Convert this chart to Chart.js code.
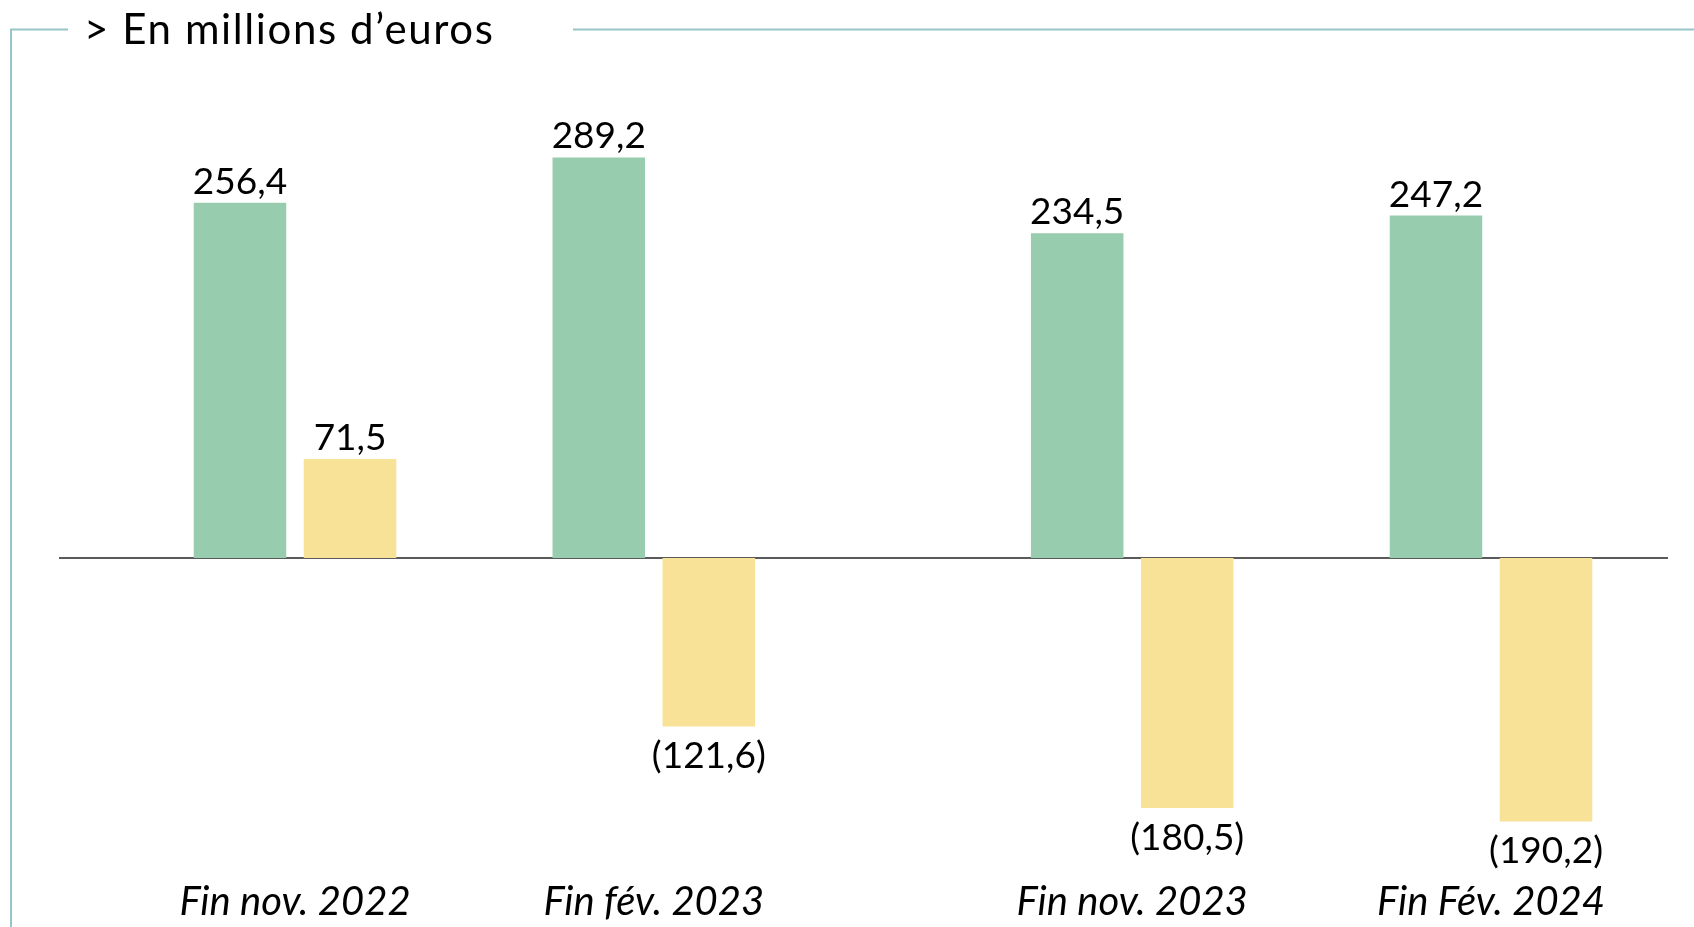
<!DOCTYPE html>
<html lang="fr">
<head>
<meta charset="utf-8">
<title>En millions d’euros</title>
<script src="https://cdn.jsdelivr.net/npm/chart.js@4/dist/chart.umd.min.js"></script>
<style>
  html, body { margin: 0; padding: 0; background: #ffffff; }
  #wrap { width: 1694px; height: 927px; position: relative; }
</style>
</head>
<body>
<div id="wrap"><canvas id="c"></canvas></div>
<script>
// ---- Data ----
const categories = ['Fin nov. 2022', 'Fin fév. 2023', 'Fin nov. 2023', 'Fin Fév. 2024'];
const greenValues = [256.4, 289.2, 234.5, 247.2];
const yellowValues = [71.5, -121.6, -180.5, -190.2];
const titleText = '> En millions d’euros';

// ---- Layout: empty category slots to reproduce the uneven spacing ----
const slotsBefore = [1, 2, 3, 2];
const slotsAfter = 1;

const labels = [], greenData = [], yellowData = [];
categories.forEach((cat, i) => {
  for (let s = 0; s < slotsBefore[i]; s++) { labels.push(''); greenData.push(null); yellowData.push(null); }
  labels.push(cat); greenData.push(greenValues[i]); yellowData.push(yellowValues[i]);
});
for (let s = 0; s < slotsAfter; s++) { labels.push(''); greenData.push(null); yellowData.push(null); }

function fmt(v) {
  const s = Math.abs(v).toFixed(1).replace('.', ',');
  return v < 0 ? '(' + s + ')' : s;
}

const framePlugin = {
  id: 'frame',
  beforeDraw(chart) {
    const ctx = chart.ctx;
    ctx.save();
    ctx.strokeStyle = '#98C6C8';
    ctx.lineWidth = 2;
    ctx.beginPath();
    ctx.moveTo(11, 927);
    ctx.lineTo(11, 29.5);
    ctx.lineTo(68, 29.5);
    ctx.moveTo(573, 29.5);
    ctx.lineTo(1694, 29.5);
    ctx.stroke();
    ctx.fillStyle = '#000000';
    ctx.font = '42px Lato';
    try { ctx.letterSpacing = '1.6px'; } catch (e) {}
    ctx.textAlign = 'left';
    ctx.textBaseline = 'alphabetic';
    ctx.fillText(titleText, 84, 44);
    ctx.restore();
  }
};

const zeroLinePlugin = {
  id: 'zeroLine',
  beforeDatasetsDraw(chart) {
    const ctx = chart.ctx;
    const y = chart.scales.y.getPixelForValue(0);
    ctx.save();
    ctx.strokeStyle = '#5a5a5a';
    ctx.lineWidth = 2;
    ctx.beginPath();
    ctx.moveTo(59, y);
    ctx.lineTo(1668, y);
    ctx.stroke();
    ctx.restore();
  }
};

const valueLabelPlugin = {
  id: 'valueLabels',
  afterDatasetsDraw(chart) {
    const ctx = chart.ctx;
    ctx.save();
    ctx.fillStyle = '#000000';
    ctx.font = '37px Lato';
    ctx.textAlign = 'center';
    ctx.textBaseline = 'alphabetic';
    chart.data.datasets.forEach((ds, di) => {
      const meta = chart.getDatasetMeta(di);
      meta.data.forEach((bar, i) => {
        const v = ds.data[i];
        if (v === null || v === undefined) return;
        const y = v >= 0 ? bar.y - 9 : bar.y + 42;
        ctx.fillText(fmt(v), bar.x, y);
      });
    });
    ctx.restore();
  }
};

new Chart(document.getElementById('c'), {
  type: 'bar',
  data: {
    labels: labels,
    datasets: [
      { label: 'Série 1', data: greenData, backgroundColor: '#97CDAE', borderWidth: 0 },
      { label: 'Série 2', data: yellowData, backgroundColor: '#F7E298', borderWidth: 0 }
    ]
  },
  options: {
    responsive: true,
    maintainAspectRatio: false,
    animation: false,
    categoryPercentage: 1.84,
    barPercentage: 0.841,
    layout: { padding: { left: 115.6, right: 23.6, top: 60, bottom: 0 } },
    plugins: {
      legend: { display: false },
      tooltip: { enabled: false },
      title: { display: false }
    },
    scales: {
      x: {
        type: 'category',
        offset: true,
        grid: { display: false },
        border: { display: false },
        ticks: {
          autoSkip: false,
          maxRotation: 0,
          minRotation: 0,
          padding: 1,
          color: '#000000',
          font: { family: 'Lato', size: 40, style: 'italic' }
        }
      },
      y: {
        display: false,
        min: -224.5,
        max: 359.5,
        grid: { display: false }
      }
    }
  },
  plugins: [framePlugin, zeroLinePlugin, valueLabelPlugin]
});
</script>
</body>
</html>
